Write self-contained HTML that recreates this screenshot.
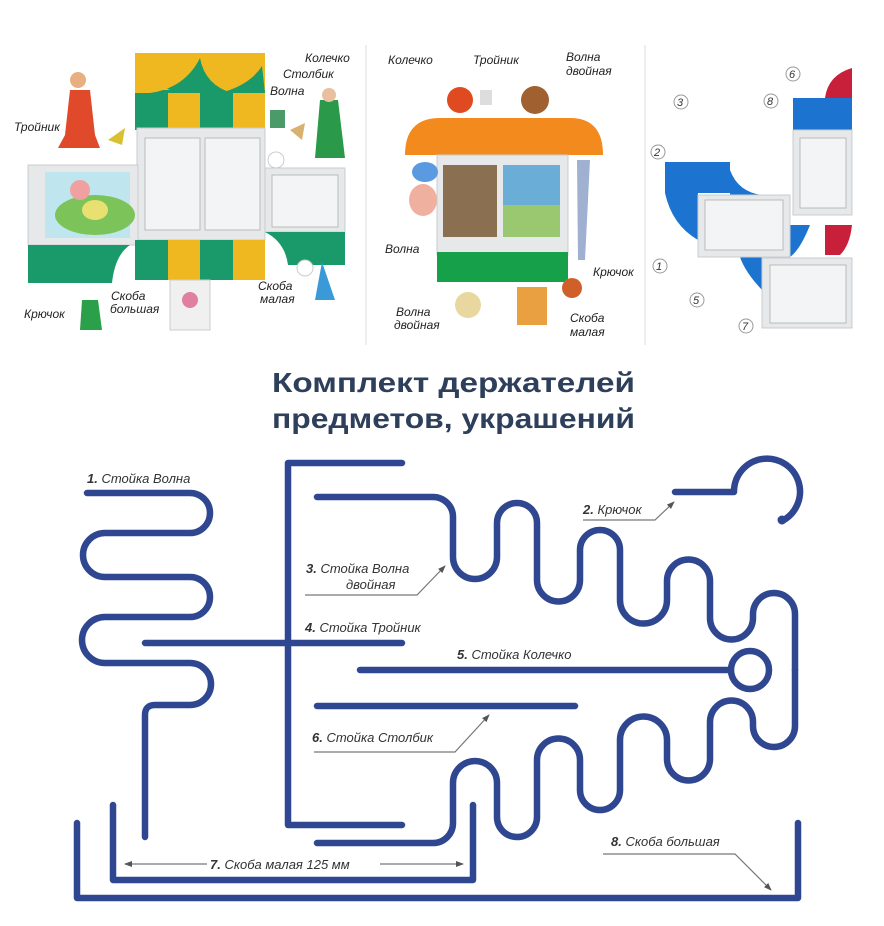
<!DOCTYPE html>
<html><head><meta charset="utf-8"><style>
html,body{margin:0;padding:0;background:#fff}
svg{display:block}
text{font-family:"Liberation Sans",sans-serif}
.lb{font-style:italic;font-size:13px;fill:#333}
.nb{font-weight:bold}
.w{fill:none;stroke:#2f4690;stroke-width:6.5;stroke-linecap:round;stroke-linejoin:round}
.ld{fill:none;stroke:#777;stroke-width:1.2}
.sl{font-style:italic;font-size:12px;fill:#222}
</style></head><body>
<svg width="884" height="926" viewBox="0 0 884 926" xmlns="http://www.w3.org/2000/svg">
<defs>
<marker id="ar" markerWidth="8" markerHeight="8" refX="7" refY="4" orient="auto" markerUnits="userSpaceOnUse"><path d="M0,1 L8,4 L0,7z" fill="#555"/></marker>
</defs>
<line x1="366" y1="45" x2="366" y2="345" stroke="#ddd"/>
<line x1="645" y1="45" x2="645" y2="345" stroke="#ddd"/>

<!-- PANEL 1 -->
<rect x="135" y="53" width="130" height="40" fill="#f0b820"/>
<path d="M136,56 Q150,85 172,93 L135,93z" fill="#f0b820"/>
<path d="M150,93 Q185,88 200,58 Q205,85 232,93z" fill="#1a9a6a"/>
<path d="M220,93 Q250,85 262,66 L265,93z" fill="#1a9a6a"/>
<path d="M135,53 Q145,80 170,90 L135,90z" fill="#f0b820"/>
<rect x="135" y="93" width="33" height="37" fill="#1a9a6a"/><rect x="168" y="93" width="32" height="37" fill="#f0b820"/>
<rect x="200" y="93" width="33" height="37" fill="#1a9a6a"/><rect x="233" y="93" width="32" height="37" fill="#f0b820"/>
<rect x="137" y="128" width="128" height="112" fill="#e6e8ea" stroke="#c8ccd0"/>
<rect x="145" y="138" width="55" height="92" fill="#f3f4f5" stroke="#bbb"/>
<rect x="205" y="138" width="55" height="92" fill="#f3f4f5" stroke="#bbb"/>
<rect x="28" y="165" width="110" height="80" fill="#e6e8ea" stroke="#c8ccd0"/>
<rect x="45" y="172" width="85" height="66" fill="#bfe6ef"/>
<ellipse cx="95" cy="215" rx="40" ry="20" fill="#7cc35a"/>
<circle cx="80" cy="190" r="10" fill="#f0a0a0"/><ellipse cx="95" cy="210" rx="13" ry="10" fill="#e8e070"/>
<rect x="265" y="168" width="80" height="64" fill="#e6e8ea" stroke="#c8ccd0"/>
<rect x="272" y="175" width="66" height="52" fill="#f3f4f5" stroke="#bbb"/>
<rect x="135" y="240" width="33" height="40" fill="#1a9a6a"/><rect x="168" y="240" width="32" height="40" fill="#f0b820"/>
<rect x="200" y="240" width="33" height="40" fill="#1a9a6a"/><rect x="233" y="240" width="32" height="40" fill="#f0b820"/>
<path d="M28,245 L130,245 Q115,255 112,283 L28,283z" fill="#1a9a6a"/>
<path d="M265,232 L345,232 L345,265 L288,265 Q285,242 265,232z" fill="#1a9a6a"/>
<path d="M70,90 L90,90 L95,135 L100,148 L58,148 L65,135z" fill="#e04a2a"/><circle cx="78" cy="80" r="8" fill="#e8b080"/>
<path d="M320,100 L338,100 L345,158 L315,158z" fill="#2a9a4a"/><circle cx="329" cy="95" r="7" fill="#e8c0a0"/>
<path d="M108,140 L125,128 L122,145z" fill="#d8c030"/><path d="M290,130 L305,123 L302,140z" fill="#d8b070"/>
<path d="M270,110 L285,110 L285,128 L270,128z" fill="#4a9a6a"/>
<circle cx="276" cy="160" r="8" fill="#fff" stroke="#ccc"/><circle cx="305" cy="268" r="8" fill="#fff" stroke="#ccc"/>
<path d="M82,300 L98,300 L102,330 L80,330z" fill="#2aa04a"/>
<rect x="170" y="280" width="40" height="50" fill="#f0f0f0" stroke="#ccc"/><circle cx="190" cy="300" r="8" fill="#e080a0"/>
<path d="M322,262 L335,300 L315,300z" fill="#3a9ad8"/>
<text class="sl" x="14" y="131">Тройник</text>
<text class="sl" x="305" y="62">Колечко</text>
<text class="sl" x="283" y="78">Столбик</text>
<text class="sl" x="270" y="95">Волна</text>
<text class="sl" x="24" y="318">Крючок</text>
<text class="sl" x="111" y="300">Скоба</text>
<text class="sl" x="110" y="313">большая</text>
<text class="sl" x="258" y="290">Скоба</text>
<text class="sl" x="260" y="303">малая</text>

<!-- PANEL 2 -->
<path d="M405,155 Q405,118 440,118 L570,118 Q603,118 603,155z" fill="#f28a1e"/>
<rect x="437" y="155" width="131" height="100" fill="#e6e8ea" stroke="#c8ccd0"/>
<rect x="443" y="165" width="54" height="72" fill="#8a7050"/>
<rect x="503" y="165" width="57" height="72" fill="#6aaed8"/>
<path d="M503,205 L560,205 L560,237 L503,237z" fill="#9ac870"/>
<rect x="437" y="252" width="131" height="30" fill="#16a04a"/>
<circle cx="460" cy="100" r="13" fill="#e04a20"/><circle cx="535" cy="100" r="14" fill="#a06030"/>
<rect x="480" y="90" width="12" height="15" fill="#ddd"/>
<ellipse cx="425" cy="172" rx="13" ry="10" fill="#5a9ae0"/><ellipse cx="423" cy="200" rx="14" ry="16" fill="#f0b0a0"/>
<path d="M577,160 L590,160 L585,260 L578,260z" fill="#a0b0d0"/>
<circle cx="572" cy="288" r="10" fill="#d0602a"/><circle cx="468" cy="305" r="13" fill="#e8d8a0"/>
<rect x="517" y="287" width="30" height="38" fill="#e8a040"/>
<text class="sl" x="388" y="64">Колечко</text>
<text class="sl" x="473" y="64">Тройник</text>
<text class="sl" x="566" y="61">Волна</text>
<text class="sl" x="566" y="75">двойная</text>
<text class="sl" x="385" y="253">Волна</text>
<text class="sl" x="593" y="276">Крючок</text>
<text class="sl" x="396" y="316">Волна</text>
<text class="sl" x="394" y="329">двойная</text>
<text class="sl" x="570" y="322">Скоба</text>
<text class="sl" x="570" y="336">малая</text>

<!-- PANEL 3 -->
<rect x="665" y="162" width="65" height="31" fill="#1c74d0"/>
<path d="M730,170 Q738,192 762,195 L730,195z" fill="#1c74d0"/>
<path d="M665,193 L698,193 L698,240 Q672,225 665,193z" fill="#1c74d0"/>
<path d="M790,225 L810,225 Q800,250 790,257z" fill="#1c74d0"/>
<path d="M740,257 L762,257 L762,290 Q745,272 740,257z" fill="#1c74d0"/>
<rect x="793" y="98" width="59" height="32" fill="#1c74d0"/>
<path d="M825,98 Q828,75 852,68 L852,98z" fill="#c8203a"/>
<path d="M825,225 L852,225 Q850,245 840,255 L825,255z" fill="#c8203a"/>
<rect x="793" y="130" width="59" height="85" fill="#e6e8ea" stroke="#c8ccd0"/>
<rect x="800" y="138" width="46" height="70" fill="#f3f4f5" stroke="#bbb"/>
<rect x="698" y="195" width="92" height="62" fill="#e6e8ea" stroke="#c8ccd0"/>
<rect x="705" y="200" width="78" height="50" fill="#f3f4f5" stroke="#bbb"/>
<rect x="762" y="258" width="90" height="70" fill="#e6e8ea" stroke="#c8ccd0"/>
<rect x="770" y="265" width="76" height="58" fill="#f3f4f5" stroke="#bbb"/>
<g font-style="italic" font-size="11" fill="#333">
<circle cx="793" cy="74" r="7" fill="#fff" stroke="#999"/><text x="789" y="78">6</text>
<circle cx="771" cy="101" r="7" fill="#fff" stroke="#999"/><text x="767" y="105">8</text>
<circle cx="681" cy="102" r="7" fill="#fff" stroke="#999"/><text x="677" y="106">3</text>
<circle cx="658" cy="152" r="7" fill="#fff" stroke="#999"/><text x="654" y="156">2</text>
<circle cx="660" cy="266" r="7" fill="#fff" stroke="#999"/><text x="656" y="270">1</text>
<circle cx="697" cy="300" r="7" fill="#fff" stroke="#999"/><text x="693" y="304">5</text>
<circle cx="746" cy="326" r="7" fill="#fff" stroke="#999"/><text x="742" y="330">7</text>
</g>

<!-- TITLE -->
<text x="272" y="392" font-size="28" font-weight="bold" fill="#2e3f5c" textLength="363" lengthAdjust="spacingAndGlyphs">Комплект держателей</text>
<text x="272" y="428" font-size="28" font-weight="bold" fill="#2e3f5c" textLength="363" lengthAdjust="spacingAndGlyphs">предметов, украшений</text>

<!-- DIAGRAM -->
<path class="w" d="M87,493 H190 A20,20 0 0 1 190,533 H105 A22,22 0 0 0 105,577 H190 A20,20 0 0 1 190,617 H105 A23,23 0 0 0 105,663 H190 A21,21 0 0 1 190,705 H155 Q145,705 145,715 V837"/>
<path class="w" d="M402,463 H288 V825 H402 M145,643 H402"/>
<g id="up"><path class="w" d="M317,497 H433 A20,20 0 0 1 453,517 V557 A22,22 0 0 0 497,557 V523 A20,20 0 0 1 537,523 V580 A21.5,21.5 0 0 0 580,580 V550 A20,20 0 0 1 620,550 V600 A23.5,23.5 0 0 0 667,600 V581 A21.5,21.5 0 0 1 710,581 V618 A21.5,21.5 0 0 0 753,618 V614 A21,21 0 0 1 795,614 V670"/></g>
<use href="#up" transform="matrix(1,0,0,-1,0,1340)"/>
<path class="w" d="M360,670 H730"/>
<circle cx="750" cy="670" r="19" fill="none" stroke="#2f4690" stroke-width="6.5"/>
<path class="w" d="M675,492 H734 A33,33 0 1 1 782,521"/>
<circle cx="782" cy="520" r="4.5" fill="#2f4690"/>
<path class="w" d="M317,706 H575"/>
<path class="w" d="M113,805 V880 H473 V805"/>
<path class="w" d="M77,823 V898 H798 V823"/>

<text class="lb" x="87" y="483"><tspan class="nb">1.</tspan> Стойка Волна</text>
<text class="lb" x="306" y="573"><tspan class="nb">3.</tspan> Стойка Волна</text>
<text class="lb" x="346" y="589">двойная</text>
<path class="ld" d="M305,595 H417 L445,566" marker-end="url(#ar)"/>
<text class="lb" x="305" y="632"><tspan class="nb">4.</tspan> Стойка Тройник</text>
<text class="lb" x="457" y="659"><tspan class="nb">5.</tspan> Стойка Колечко</text>
<text class="lb" x="312" y="742"><tspan class="nb">6.</tspan> Стойка Столбик</text>
<path class="ld" d="M314,752 H455 L489,715" marker-end="url(#ar)"/>
<text class="lb" x="583" y="514"><tspan class="nb">2.</tspan> Крючок</text>
<path class="ld" d="M583,520 H655 L674,502" marker-end="url(#ar)"/>
<text class="lb" x="210" y="869"><tspan class="nb">7.</tspan> Скоба малая  125 мм</text>
<path class="ld" d="M207,864 H125" marker-end="url(#ar)"/>
<path class="ld" d="M380,864 H463" marker-end="url(#ar)"/>
<text class="lb" x="611" y="846"><tspan class="nb">8.</tspan> Скоба большая</text>
<path class="ld" d="M603,854 H735 L771,890" marker-end="url(#ar)"/>
</svg>
</body></html>
